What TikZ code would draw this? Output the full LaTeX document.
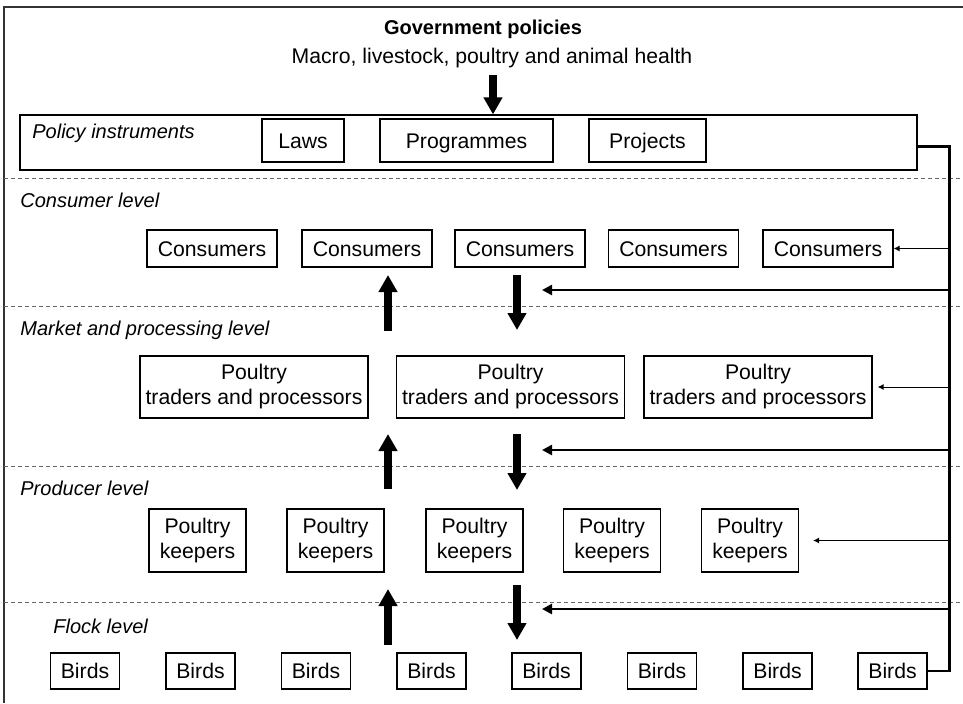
\documentclass[tikz,border=0pt]{standalone}
\usepackage{fontspec}
\setmainfont{Liberation Sans}
\usetikzlibrary{arrows.meta}
\tikzstyle{actorbox}=[draw,line width=0.6pt,inner sep=0pt,align=center]
\tikzstyle{onelinebox}=[actorbox,text height=7.6pt,text depth=0pt]
\tikzstyle{consumerbox}=[onelinebox,minimum width=65pt,minimum height=18.5pt]
\tikzstyle{traderbox}=[actorbox,minimum width=114pt,minimum height=31pt]
\tikzstyle{keeperbox}=[actorbox,minimum width=48.5pt,minimum height=31.5pt]
\tikzstyle{birdbox}=[onelinebox,minimum width=34.5pt,minimum height=18pt]
\tikzstyle{instrumentbox}=[onelinebox,minimum height=21.5pt]
\tikzstyle{levellabel}=[anchor=base west,inner sep=0pt,font=\itshape]
\tikzstyle{levelline}=[dashed,dash pattern=on 2pt off 1.5pt,line width=0.45pt,black!60]
\tikzstyle{bigarc}=[line width=4.4pt,-{Triangle[length=8.5pt,width=9pt]}]
\tikzstyle{feedarc}=[line width=1.4pt,-{Triangle[length=5pt,width=5pt]}]
\tikzstyle{thinarc}=[line width=0.5pt,-{Latex[length=3pt,width=3pt]}]
\tikzstyle{busline}=[line width=1.4pt]

\begin{document}
\begin{tikzpicture}[x=0.5pt,y=-0.5pt,font=\fontsize{10.6pt}{12.5pt}\selectfont]
\useasboundingbox (0,0) rectangle (963,703);

\draw[line width=0.6pt,black!80] (4,703) -- (4,7) -- (963,7);

\node[anchor=base,inner sep=0pt,font=\bfseries] (govtitle) at (483,34) {Government policies};
\node[anchor=base,inner sep=0pt] (govsub) at (492,63) {Macro, livestock, poultry and animal health};

% policy instruments
\node[actorbox,minimum width=448.5pt,minimum height=27.5pt] (policy) at (468.5,142.5) {};
\node[levellabel] (policylabel) at (32,138) {Policy instruments};
\node[instrumentbox,minimum width=41pt] (laws) at (303,140.5) {Laws};
\node[instrumentbox,minimum width=86.5pt] (progs) at (466.5,140.5) {Programmes};
\node[instrumentbox,minimum width=58.5pt] (projs) at (647.5,140.5) {Projects};

\coordinate (govtop) at (493,75);
\draw[bigarc] (govtop) -- (govtop |- policy.north);

\draw[levelline] (4,178) -- (963,178);
\draw[levelline] (4,306) -- (963,306);
\draw[levelline] (4,466) -- (963,466);
\draw[levelline] (4,602) -- (963,602);

\node[levellabel] (L1) at (20,207) {Consumer level};
\node[levellabel] (L2) at (20,335) {Market and processing level};
\node[levellabel] (L3) at (20,495) {Producer level};
\node[levellabel] (L4) at (53,633) {Flock level};

\node[consumerbox] (cons1) at (212,248.5) {Consumers};
\node[consumerbox] (cons2) at (367,248.5) {Consumers};
\node[consumerbox] (cons3) at (520,248.5) {Consumers};
\node[consumerbox] (cons4) at (673.5,248.5) {Consumers};
\node[consumerbox] (cons5) at (828,248.5) {Consumers};

\node[traderbox] (trade1) at (254,387) {Poultry\\traders and processors};
\node[traderbox] (trade2) at (510.5,387) {Poultry\\traders and processors};
\node[traderbox] (trade3) at (758,387) {Poultry\\traders and processors};

\node[keeperbox] (keep1) at (197.5,540.5) {Poultry\\keepers};
\node[keeperbox] (keep2) at (335.5,540.5) {Poultry\\keepers};
\node[keeperbox] (keep3) at (474.5,540.5) {Poultry\\keepers};
\node[keeperbox] (keep4) at (612,540.5) {Poultry\\keepers};
\node[keeperbox] (keep5) at (750,540.5) {Poultry\\keepers};

\node[birdbox] (bird1) at (85,671) {Birds};
\node[birdbox] (bird2) at (200.5,671) {Birds};
\node[birdbox] (bird3) at (316,671) {Birds};
\node[birdbox] (bird4) at (431.5,671) {Birds};
\node[birdbox] (bird5) at (546.5,671) {Birds};
\node[birdbox] (bird6) at (662,671) {Birds};
\node[birdbox] (bird7) at (777.5,671) {Birds};
\node[birdbox] (bird8) at (892.5,671) {Birds};

% bus from the policy instruments down to the flock level
\draw[busline] ([yshift=-2pt]policy.east) -- ++(32,0) coordinate (bustop) |- (bird8.east);

\draw[thinarc] (bustop |- cons5.east) -- (cons5.east);
\draw[thinarc] (bustop |- trade3.east) -- ([xshift=2.5pt]trade3.east);
\draw[thinarc] (bustop |- keep5.east) -- ([xshift=7pt]keep5.east);

\coordinate (feedA) at (542,290);
\coordinate (feedB) at (542,450);
\coordinate (feedC) at (542,609);
\draw[feedarc] (bustop |- feedA) -- (feedA);
\draw[feedarc] (bustop |- feedB) -- (feedB);
\draw[feedarc] (bustop |- feedC) -- (feedC);

\coordinate (upA) at (388,331);
\coordinate (upB) at (388,489);
\coordinate (upC) at (388,645);
\coordinate (downA) at (517,275);
\coordinate (downB) at (517,434);
\coordinate (downC) at (517,585);
\draw[bigarc] (upA) -- ++(0,-56);
\draw[bigarc] (upB) -- ++(0,-55);
\draw[bigarc] (upC) -- ++(0,-56);
\draw[bigarc] (downA) -- ++(0,55);
\draw[bigarc] (downB) -- ++(0,56);
\draw[bigarc] (downC) -- ++(0,55);

\end{tikzpicture}
\end{document}
